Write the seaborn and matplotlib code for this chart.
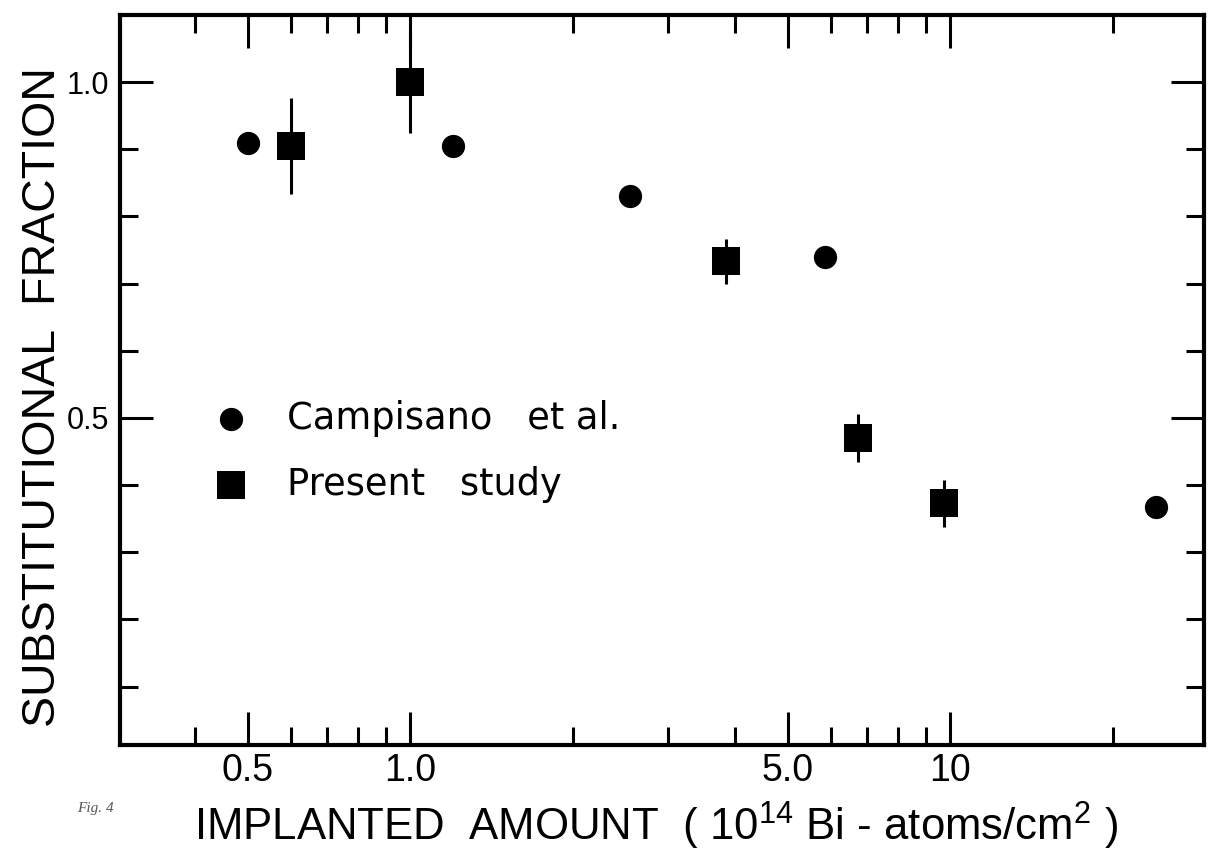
import numpy as np
import pandas as pd
import matplotlib
matplotlib.use("Agg")
import matplotlib.pyplot as plt
import seaborn as sns

# values
campisano_x = [0.5, 1.2, 2.55, 5.85, 24.0]
campisano_y = [0.91, 0.905, 0.83, 0.74, 0.367]

present_x = [0.6, 1.0, 3.85, 6.75, 9.75]
present_y = [0.905, 1.0, 0.733, 0.47, 0.373]
present_err = [0.071, 0.075, 0.033, 0.036, 0.035]

x_major = [0.5, 1.0, 5.0, 10.0]
x_major_labels = ["0.5", "1.0", "5.0", "10"]
x_minor = [0.4, 0.6, 0.7, 0.8, 0.9, 2, 3, 4, 6, 7, 8, 9, 20]
y_major = [0.5, 1.0]
y_major_labels = ["0.5", "1.0"]
y_minor = [0.1, 0.2, 0.3, 0.4, 0.6, 0.7, 0.8, 0.9]

camp = pd.DataFrame({"x": campisano_x, "y": campisano_y})
pres = pd.DataFrame({"x": present_x, "y": present_y, "err": present_err})

sns.set_style("ticks")
plt.rcParams["font.family"] = ["Liberation Sans", "DejaVu Sans"]
plt.rcParams["mathtext.fontset"] = "custom"
plt.rcParams["mathtext.rm"] = "Liberation Sans"
plt.rcParams["mathtext.it"] = "Liberation Sans"
plt.rcParams["text.color"] = "black"
plt.rcParams["axes.labelcolor"] = "black"
plt.rcParams["xtick.color"] = "black"
plt.rcParams["ytick.color"] = "black"

fig = plt.figure(figsize=(12.09, 8.57), dpi=100)
ax = fig.add_axes([0.0993, 0.1307, 0.8966, 0.8518])

# error bars first, markers on top
ax.errorbar(pres["x"], pres["y"], yerr=pres["err"], fmt="none",
            ecolor="black", elinewidth=2.2, capsize=0, zorder=2)
sns.scatterplot(data=camp, x="x", y="y", marker="o", s=280, color="black",
                edgecolor="black", linewidth=0, ax=ax, zorder=3,
                label="Campisano   et al.")
sns.scatterplot(data=pres, x="x", y="y", marker="s", s=400, color="black",
                edgecolor="black", linewidth=0, ax=ax, zorder=3,
                label="Present   study")

ax.set_xscale("log")
ax.set_xlim(0.29, 29.5)
ax.set_ylim(0.013, 1.10)

ax.set_xticks(x_major)
ax.set_xticklabels(x_major_labels)
ax.set_xticks(x_minor, minor=True)
ax.set_xticklabels([], minor=True)
ax.set_yticks(y_major)
ax.set_yticklabels(y_major_labels)
ax.set_yticks(y_minor, minor=True)

ax.tick_params(which="both", direction="in", top=True, right=True,
               color="black", width=2.2, pad=6)
ax.tick_params(axis="x", labelsize=27)
ax.tick_params(axis="y", labelsize=22, pad=8)
ax.tick_params(which="major", length=24)
ax.tick_params(which="minor", length=13)

for sp in ax.spines.values():
    sp.set_linewidth(3)
    sp.set_color("black")

ax.set_xlabel(r"IMPLANTED  AMOUNT  ( $\mathrm{10}^{\mathrm{14}}$ Bi - atoms/cm$^{\mathrm{2}}$ )",
              fontsize=31.5)
ax.xaxis.label.set_va("baseline")
ax.xaxis.set_label_coords(0.494, -0.1315)
ax.set_ylabel("SUBSTITUTIONAL  FRACTION", fontsize=33.5)
ax.yaxis.label.set_va("baseline")
ax.yaxis.set_label_coords(-0.060, 0.477)

leg = ax.legend(loc="upper left", bbox_to_anchor=(0.0858, 0.473), frameon=False,
                handlelength=1.0, handletextpad=1.0, borderpad=0,
                borderaxespad=0, labelspacing=0.8, markerscale=1.0,
                prop={"family": "DejaVu Sans", "size": 26.5})

fig.text(0.064, 0.0525, "Fig. 4", fontsize=11, color="#555555",
         family="Liberation Serif", style="italic")

fig.savefig("out.png", dpi=100)
